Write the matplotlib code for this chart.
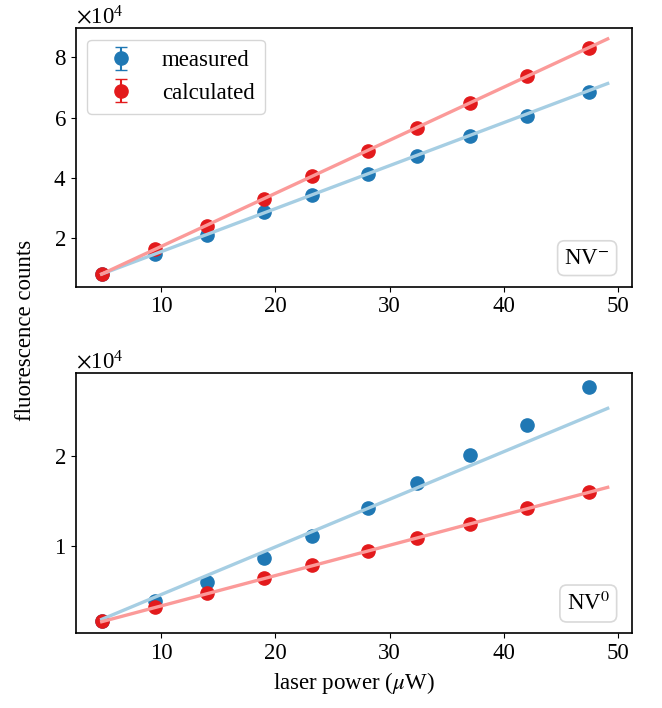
import numpy as np
import matplotlib
matplotlib.use("Agg")
import matplotlib.pyplot as plt

plt.rcParams['font.family'] = ['Liberation Serif', 'DejaVu Serif']
plt.rcParams['mathtext.fontset'] = 'stix'
plt.rcParams['font.size'] = 16.5

# laser power (uW)
power = [4.8, 9.45, 14.0, 19.05, 23.25, 28.1, 32.4, 37.05, 42.05, 47.5]

# NV- counts
nvm_measured = [8100, 14700, 21200, 28600, 34400, 41300, 47200, 53800, 60400, 68600]
nvm_calculated = [8100, 16300, 24100, 33000, 40600, 48900, 56500, 64900, 73800, 83200]
# NV0 counts
nv0_measured = [1630, 3810, 5930, 8600, 11110, 14160, 16930, 20080, 23380, 27600]
nv0_calculated = [1630, 3220, 4710, 6440, 7860, 9440, 10820, 12440, 14160, 15930]

# fitted lines (end points)
fit_x = [4.8, 49.1]
nvm_fit_measured = [8100, 71300]
nvm_fit_calculated = [8100, 86100]
nv0_fit_measured = [1820, 25270]
nv0_fit_calculated = [1560, 16490]

c_meas = '#1f78b4'
c_calc = '#e31a1c'
c_meas_fit = '#a6cee3'
c_calc_fit = '#fb9a99'

fig = plt.figure(figsize=(6.62, 7.08), dpi=100)
ax1 = fig.add_axes([0.1148, 0.595, 0.8399, 0.365])
ax2 = fig.add_axes([0.1148, 0.1055, 0.8399, 0.3672])

panels = [
    (ax1, nvm_measured, nvm_calculated, nvm_fit_measured, nvm_fit_calculated, r'NV$^{-}$'),
    (ax2, nv0_measured, nv0_calculated, nv0_fit_measured, nv0_fit_calculated, r'NV$^{0}$'),
]

for ax, meas, calc, fmeas, fcalc, name in panels:
    ax.errorbar(power, meas, yerr=0, fmt='o', color=c_meas, ms=9.5, capsize=4,
                label='measured', zorder=2)
    ax.errorbar(power, calc, yerr=0, fmt='o', color=c_calc, ms=9.5, capsize=4,
                label='calculated', zorder=2)
    ax.plot(fit_x, fmeas, color=c_meas_fit, lw=2.4, zorder=3)
    ax.plot(fit_x, fcalc, color=c_calc_fit, lw=2.4, zorder=3)
    ax.set_xlim(2.55, 51.23)
    ax.set_xticks([10, 20, 30, 40, 50])
    ax.ticklabel_format(axis='y', style='sci', scilimits=(4, 4), useMathText=True)
    for s in ax.spines.values():
        s.set_linewidth(1.2)
    ax.text(0.96, 0.07, name, transform=ax.transAxes, ha='right', va='bottom',
            bbox=dict(boxstyle='round,pad=0.3', fc='white', ec='0.85', lw=1.2))

ax1.set_ylim(3900, 89600)
ax1.set_yticks([20000, 40000, 60000, 80000])
ax2.set_ylim(270, 29160)
ax2.set_yticks([10000, 20000])

ax1.legend(loc='upper left', borderpad=0.45, handletextpad=0.8,
           edgecolor='0.8', framealpha=0.8)

ax2.set_xlabel(r'laser power ($\mu$W)')
fig.text(0.038, 0.533, 'fluorescence counts', rotation=90, ha='center', va='center')

fig.savefig('out.png', dpi=100)
